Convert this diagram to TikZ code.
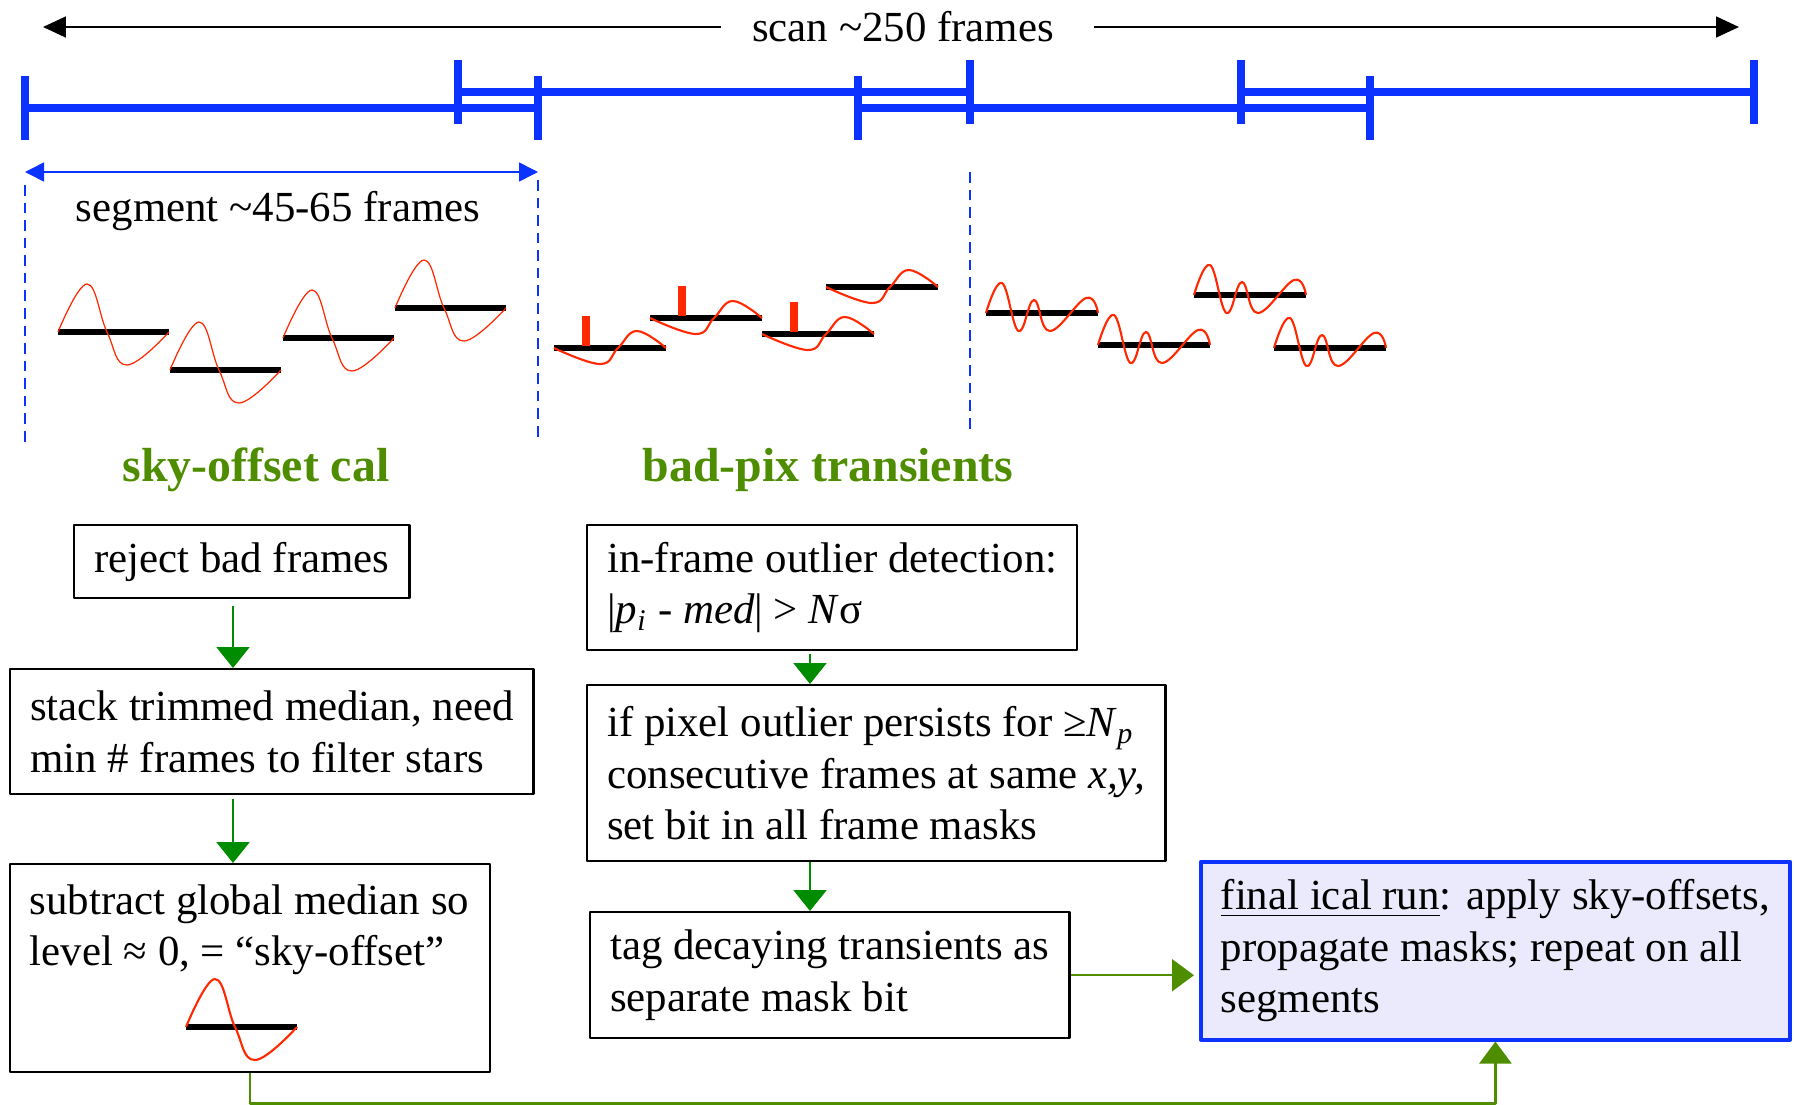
\documentclass[tikz,border=0pt]{standalone}
\usepackage{fontspec}
\setmainfont{Liberation Serif}
\usetikzlibrary{arrows.meta}

\definecolor{tlblue}{RGB}{12,50,255}
\definecolor{wavered}{RGB}{255,40,0}
\definecolor{flowgreen}{RGB}{0,140,0}
\definecolor{olivegreen}{RGB}{78,140,0}
\definecolor{finalfill}{RGB}{234,234,252}

\begin{document}
\begin{tikzpicture}[line join=round,
	txt/.style={font=\fontsize{12.2}{14.6}\selectfont},
	grouptitle/.style={font=\fontsize{13.6}{16}\selectfont\bfseries, text=olivegreen},
	box/.style={draw, line width=0.7pt, font=\fontsize{12.2}{14.6}\selectfont, align=left, anchor=north west, inner xsep=0.2cm},
	tlbar/.style={tlblue, line width=2.3pt},
	tltick/.style={tlblue, line width=2pt},
	cutline/.style={tlblue, line width=0.6pt, dash pattern=on 3pt off 2pt},
	scanarrow/.style={line width=0.5pt, -{Triangle[length=0.23cm,width=0.21cm]}},
	segarrow/.style={tlblue, line width=0.45pt, {Triangle[length=0.19cm,width=0.19cm]}-{Triangle[length=0.19cm,width=0.19cm]}},
	flowarrow/.style={flowgreen, line width=0.6pt, -{Triangle[length=0.21cm,width=0.33cm]}},
	olivearrow/.style={olivegreen, line width=0.65pt, -{Triangle[length=0.22cm,width=0.32cm]}},
	skywave/.pic={
		\draw[line width=1.5pt] (0,0) -- (1.11,0);
		\draw[wavered] plot[smooth, tension=0.7] coordinates {(0,0) (0.29,0.48) (0.49,0) (0.69,-0.33) (1.11,0)};
	},
	pixwave/.pic={
		\draw[line width=1.5pt] (0,0) -- (1.12,0);
		\draw[wavered] plot[smooth, tension=0.7] coordinates {(0,0) (0.46,-0.16) (0.64,0) (0.83,0.17) (1.12,0)};
	},
	ripwave/.pic={
		\draw[line width=1.5pt] (0,0) -- (1.12,0);
		\draw[wavered] plot[smooth, tension=0.7] coordinates {(0,0) (0.16,0.30) (0.325,-0.18) (0.48,0.13) (0.64,-0.18) (1.0,0.15) (1.12,0)};
	}]
	\useasboundingbox (0,0) rectangle (17.94,-11.05);

	% scan length
	\node[txt] (scan) at (9.03,-0.27) {scan \textasciitilde250 frames};
	\coordinate (scanL) at (0.43,-0.27);
	\coordinate (scanR) at (17.39,-0.27);
	\draw[scanarrow] ([xshift=-0.19cm]scan.west) -- (scanL);
	\draw[scanarrow] ([xshift=0.28cm]scan.east) -- (scanR);

	% overlapping segments
	\foreach \xa/\xb/\y in {0.25/5.38/-1.08, 4.58/9.70/-0.92, 8.58/13.70/-1.08, 12.41/17.54/-0.92}
	{
		\draw[tlbar] (\xa,\y) -- (\xb,\y);
		\draw[tltick] (\xa,\y-0.32) -- (\xa,\y+0.32);
		\draw[tltick] (\xb,\y-0.32) -- (\xb,\y+0.32);
	}

	\coordinate (segL) at (0.25,-1.72);
	\coordinate (segR) at (5.38,-1.72);
	\draw[segarrow] (segL) -- (segR);
	\node[txt] (seglabel) at (2.78,-2.11) {segment \textasciitilde45-65 frames};

	\foreach \x/\ya/\yb in {0.25/-1.85/-4.43, 5.38/-1.80/-4.43, 9.70/-1.72/-4.29}
		\draw[cutline] (\x,\ya) -- (\x,\yb);

	% frames
	\foreach \x/\y in {0.58/-3.32, 1.70/-3.70, 2.83/-3.38, 3.95/-3.08}
		\pic[line width=0.35pt] at (\x,\y) {skywave};
	\foreach \x/\y/\s in {5.54/-3.48/1, 6.50/-3.18/1, 7.62/-3.34/1, 8.26/-2.87/0}
	{
		\pic[line width=0.6pt] at (\x,\y) {pixwave};
		\ifnum\s=1 \fill[wavered] (\x+0.28,\y+0.02) rectangle (\x+0.36,\y+0.32); \fi
	}
	\foreach \x/\y in {9.86/-3.13, 10.98/-3.45, 11.94/-2.95, 12.74/-3.48}
		\pic[line width=0.6pt] at (\x,\y) {ripwave};

	\node[grouptitle] (skytitle) at (2.56,-4.70) {sky-offset cal};
	\node[grouptitle] (pixtitle) at (8.28,-4.70) {bad-pix transients};

	% sky-offset steps
	\node[box, minimum height=0.73cm] (reject) at (0.73,-5.24) {reject bad frames};
	\node[box, minimum height=1.25cm] (stack) at (0.09,-6.68) {stack trimmed median, need\\min \# frames to filter stars};
	\node[box, minimum width=4.80cm, minimum height=2.08cm] (subtr) at (0.09,-8.63) {};
	\node[txt, anchor=north west, align=left, inner xsep=0.2cm, inner ysep=0.21cm] (subtrtxt) at (subtr.north west) {subtract global median so\\level ≈ 0, = “sky-offset”};
	\pic[line width=0.6pt] at (1.86,-10.27) {skywave};

	% bad-pix steps
	\node[box, minimum height=1.25cm] (infr) at (5.86,-5.24) {in-frame outlier detection:\\|\textit{p}\textsubscript{\textit{i}} - \textit{med}| > \textit{N}σ};
	\node[box, minimum height=1.76cm] (persist) at (5.86,-6.84) {if pixel outlier persists for ≥\textit{N}\textsubscript{\textit{p}}\\consecutive frames at same \textit{x,y,}\\set bit in all frame masks};
	\node[box, minimum height=1.26cm] (tagdec) at (5.89,-9.11) {tag decaying transients as\\separate mask bit};

	\node[box, draw=tlblue, line width=1pt, fill=finalfill, minimum height=1.78cm] (final) at (11.99,-8.60) {\underline{final ical run}: apply sky-offsets,\\propagate masks; repeat on all\\segments};

	% connectors
	\coordinate (lcol) at (2.33,0);
	\coordinate (mcol) at (8.10,0);
	\draw[flowarrow] ([yshift=-0.07cm]reject.south -| lcol) -- (stack.north -| lcol);
	\draw[flowarrow] ([yshift=-0.04cm]stack.south -| lcol) -- (subtr.north -| lcol);
	\draw[flowarrow] ([yshift=-0.03cm]infr.south -| mcol) -- (persist.north -| mcol);
	\draw[flowarrow] (persist.south -| mcol) -- (tagdec.north -| mcol);
	\draw[olivearrow] (tagdec.east) -- ([xshift=-0.05cm]tagdec.east -| final.west);
	\draw[olivearrow] (subtr.south) -- ++(0,-0.30) -| (final.south);
\end{tikzpicture}
\end{document}
